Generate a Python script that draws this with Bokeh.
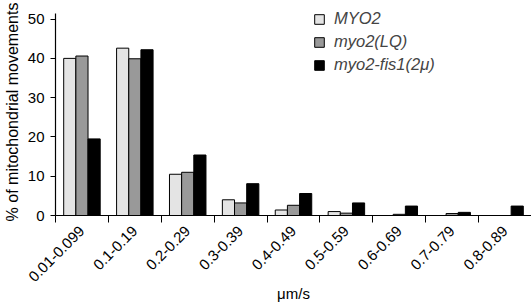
import math
from bokeh.plotting import figure
from bokeh.models import FixedTicker, ColumnDataSource, Legend, LegendItem
from bokeh.embed import file_html
from bokeh.resources import INLINE

categories = ["0.01-0.099", "0.1-0.19", "0.2-0.29", "0.3-0.39", "0.4-0.49",
              "0.5-0.59", "0.6-0.69", "0.7-0.79", "0.8-0.89"]
series_names = ["MYO2", "myo2(LQ)", "myo2-fis1(2μ)"]
myo2 = [40.0, 42.6, 10.5, 4.0, 1.4, 1.0, 0.0, 0.0, 0.0]
myo2_lq = [40.6, 39.9, 11.0, 3.2, 2.6, 0.6, 0.3, 0.5, 0.0]
myo2_fis1 = [19.5, 42.2, 15.4, 8.1, 5.6, 3.2, 2.4, 0.8, 2.4]
y_ticks = [0, 10, 20, 30, 40, 50]
x_label = "μm/s"
y_label = "% of mitochondrial movements"

colors = ["#e4e4e4", "#999999", "#000000"]
offsets = [-0.23, 0.0, 0.23]
bar_w = 0.23
FONT = "Liberation Sans"

p = figure(width=531, height=305, output_backend="svg", toolbar_location=None,
           x_range=(0, 9), y_range=(0, 52.7),
           min_border_left=53, min_border_right=0, min_border_top=8,
           min_border_bottom=90)
p.outline_line_color = None
p.xgrid.visible = False
p.ygrid.visible = False
p.background_fill_color = "white"
p.border_fill_color = "white"

centers = [i + 0.5 for i in range(len(categories))]
items = []
for vals, name, col, off in zip([myo2, myo2_lq, myo2_fis1], series_names, colors, offsets):
    src = ColumnDataSource(dict(x=[c + off for c in centers], top=vals))
    r = p.vbar(x="x", top="top", width=bar_w, bottom=0, source=src,
               fill_color=col, line_color="black", line_width=1)
    items.append(LegendItem(label=name, renderers=[r]))

legend = Legend(items=items, location=(258, 140), background_fill_alpha=0,
                border_line_color=None, padding=0, margin=0, spacing=2,
                glyph_width=12, glyph_height=12, label_standoff=9,
                label_text_font=FONT, label_text_font_size="16.5px",
                label_text_font_style="italic", label_height=21)
p.add_layout(legend)

# x axis
xa = p.xaxis[0]
xa.ticker = FixedTicker(ticks=centers, minor_ticks=list(range(10)))
xa.major_label_overrides = {c: lab for c, lab in zip(centers, categories)}
xa.major_tick_out = 0
xa.major_tick_in = 0
xa.minor_tick_out = 7
xa.minor_tick_in = 0
xa.minor_tick_line_color = "black"
xa.major_label_orientation = math.pi / 4
xa.major_label_text_font = FONT
xa.major_label_text_font_size = "15px"
xa.major_label_text_color = "black"
xa.major_label_standoff = 6
xa.axis_label = x_label
xa.axis_label_text_font = FONT
xa.axis_label_text_font_size = "15px"
xa.axis_label_text_font_style = "normal"
xa.axis_label_text_color = "black"
xa.axis_label_standoff = -4
xa.axis_line_color = "black"
xa.axis_line_width = 1.2

# y axis
ya = p.yaxis[0]
ya.ticker = FixedTicker(ticks=y_ticks)
ya.bounds = (0, 51.4)
ya.major_tick_out = 5
ya.major_tick_in = 0
ya.minor_tick_out = 0
ya.minor_tick_in = 0
ya.major_tick_line_color = "black"
ya.major_label_text_font = FONT
ya.major_label_text_font_size = "15px"
ya.major_label_text_color = "black"
ya.major_label_standoff = 6
ya.axis_label = y_label
ya.axis_label_text_font = FONT
ya.axis_label_text_font_size = "16px"
ya.axis_label_text_font_style = "normal"
ya.axis_label_text_color = "black"
ya.axis_label_standoff = 4
ya.axis_line_color = "black"
ya.axis_line_width = 1.2

open("out.html", "w").write(file_html(p, INLINE))
